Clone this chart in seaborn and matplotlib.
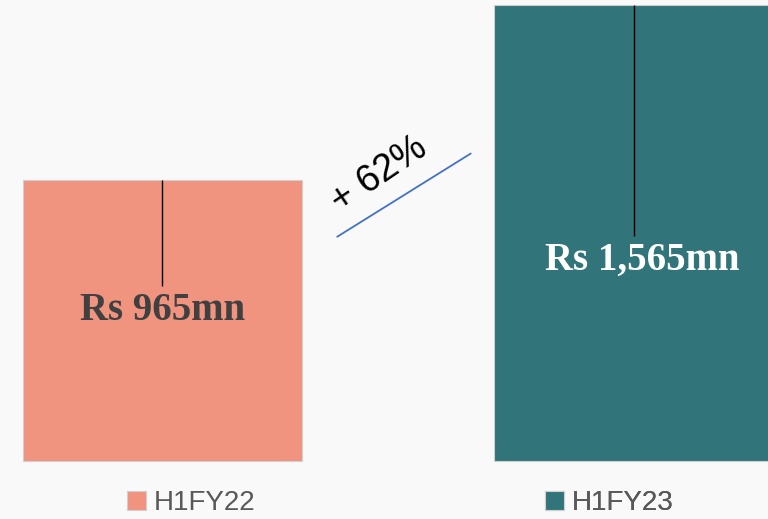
import matplotlib

matplotlib.use("Agg")
import matplotlib.pyplot as plt
import pandas as pd
import seaborn as sns

# chart data
PERIODS = ["H1FY22", "H1FY23"]
REVENUE_MN = [965, 1565]
LABELS = ["Rs 965mn", "Rs 1,565mn"]
GROWTH_TEXT = "+ 62%"

COLORS = ["#F0937F", "#31757A"]
LABEL_COLORS = ["#404040", "#FFFFFF"]
BG = "#F9F9F9"

# layout helpers
LABEL_Y = [518, 690]          # value-axis units
LABEL_DX = [0.0, 0.017]       # category-axis units
LEADER_GAP = 83
LEGEND_X = [127 / 768, 545 / 768]

SANS = ["Liberation Sans", "DejaVu Sans"]
SERIF = ["Liberation Serif", "DejaVu Serif"]

sns.set_theme(style="white")
plt.rcParams["font.family"] = SANS

df = pd.DataFrame({"period": PERIODS, "revenue": REVENUE_MN})

fig = plt.figure(figsize=(7.68, 5.19), dpi=100, facecolor=BG)
ax = fig.add_axes([0, 0, 1, 1])
ax.set_facecolor(BG)

sns.barplot(
    data=df,
    x="period",
    y="revenue",
    hue="period",
    palette=COLORS,
    saturation=1,
    width=0.592,
    edgecolor="#D0D0D0",
    linewidth=0.8,
    legend=True,
    ax=ax,
)

ax.set_xlim(-0.3446, 1.2842)
ax.set_ylim(-199.2, 1583.2)
ax.axis("off")

# leader lines and value labels inside each bar
for i, (val, lab, ly, dx, lc) in enumerate(
    zip(REVENUE_MN, LABELS, LABEL_Y, LABEL_DX, LABEL_COLORS)
):
    ax.vlines(i, ly + LEADER_GAP, val, color="black", linewidth=1)
    ax.text(i + dx, ly, lab, ha="center", va="center", color=lc,
            fontsize=28, fontweight="bold", family=SERIF)

# growth annotation
ax.annotate("", xy=(0.616, 0.707), xytext=(0.436, 0.541),
            xycoords="axes fraction", textcoords="axes fraction",
            arrowprops=dict(arrowstyle="-", color="#4472C4", linewidth=1.3))
ax.text(0.494, 0.664, GROWTH_TEXT, transform=ax.transAxes, rotation=34,
        ha="center", va="center", fontsize=27, color="black",
        rotation_mode="anchor")

# one legend entry under each bar
handles, texts = ax.get_legend_handles_labels()
if not handles:
    leg = ax.get_legend()
    handles = leg.legend_handles
    texts = [t.get_text() for t in leg.get_texts()]
ax.get_legend().remove()

legend_kw = dict(
    loc="lower left",
    bbox_transform=fig.transFigure,
    frameon=False,
    fontsize=20,
    handlelength=0.68,
    handleheight=0.68,
    handletextpad=0.3,
    borderpad=0,
    borderaxespad=0,
    labelcolor="#595959",
)
for h, t, lx in zip(handles, texts, LEGEND_X):
    lg = ax.legend([h], [t], bbox_to_anchor=(lx, 3 / 519), **legend_kw)
    ax.add_artist(lg)

fig.savefig("out.png", dpi=100, facecolor=BG)
